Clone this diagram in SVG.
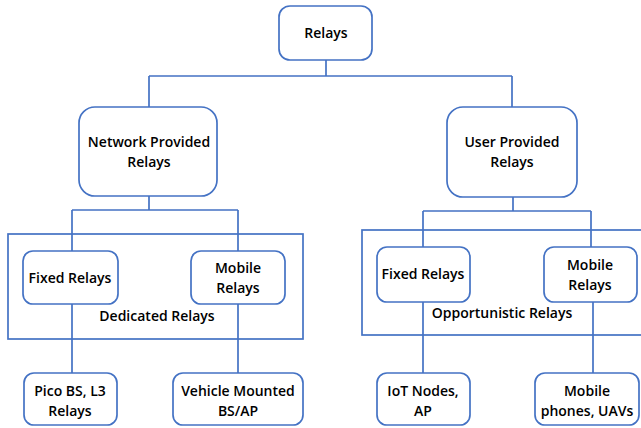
<svg xmlns="http://www.w3.org/2000/svg" width="641" height="428" viewBox="0 0 641 428">
<style>
.n{fill:#fff;stroke:#4472C4;stroke-width:1.7}
.g{fill:none;stroke:#4472C4;stroke-width:1.7}
.c{fill:none;stroke:#4472C4;stroke-width:1.7}
text{font-family:"Open Sans","Liberation Sans",sans-serif;font-weight:600;font-size:14px;fill:#000;text-anchor:middle}
</style>
<rect width="641" height="428" fill="#fff"/>
<g id="connectors">
<path class="c" d="M326,60 V76 M149,76 H512 M149,76 V107 M512,76 V107"/>
<path class="c" d="M149,196 V210 M72,210 H238 M72,210 V251 M238,210 V251 M72,304 V373 M238,304 V373"/>
<path class="c" d="M513,197 V211 M423,211 H591 M423,211 V247 M591,211 V247 M423,302 V373 M593,302 V373"/>
</g>
<g id="dedicated-group"><rect class="g" x="8" y="234" width="295" height="105"/><text x="157" y="321">Dedicated Relays</text></g>
<g id="opportunistic-group"><rect class="g" x="362" y="230" width="280" height="105"/><text x="502" y="318">Opportunistic Relays</text></g>
<g id="relays"><rect class="n" x="279" y="6" width="93" height="54" rx="11"/><text x="326" y="38">Relays</text></g>
<g id="network"><rect class="n" x="79" y="107" width="138" height="89" rx="16"/><text x="149" y="147">Network Provided</text><text x="149" y="167">Relays</text></g>
<g id="user"><rect class="n" x="447" y="107" width="130" height="90" rx="16"/><text x="512" y="147">User Provided</text><text x="512" y="167">Relays</text></g>
<g id="fixed-d"><rect class="n" x="23" y="251" width="95" height="53" rx="10"/><text x="70" y="283">Fixed Relays</text></g>
<g id="mobile-d"><rect class="n" x="191" y="251" width="94" height="53" rx="10"/><text x="238" y="273">Mobile</text><text x="238" y="293">Relays</text></g>
<g id="fixed-o"><rect class="n" x="377" y="247" width="93" height="55" rx="10"/><text x="423" y="279">Fixed Relays</text></g>
<g id="mobile-o"><rect class="n" x="544" y="247" width="93" height="55" rx="10"/><text x="590" y="270">Mobile</text><text x="590" y="290">Relays</text></g>
<g id="pico"><rect class="n" x="24" y="373" width="93" height="52" rx="10"/><text x="70" y="396">Pico BS, L3</text><text x="70" y="416">Relays</text></g>
<g id="vehicle"><rect class="n" x="173" y="373" width="130" height="52" rx="10"/><text x="238" y="396">Vehicle Mounted</text><text x="238" y="416">BS/AP</text></g>
<g id="iot"><rect class="n" x="377" y="373" width="93" height="52" rx="10"/><text x="423" y="396">IoT Nodes,</text><text x="423" y="416">AP</text></g>
<g id="phones"><rect class="n" x="535" y="373" width="104" height="52" rx="10"/><text x="587" y="396">Mobile</text><text x="587" y="416">phones, UAVs</text></g>
</svg>
